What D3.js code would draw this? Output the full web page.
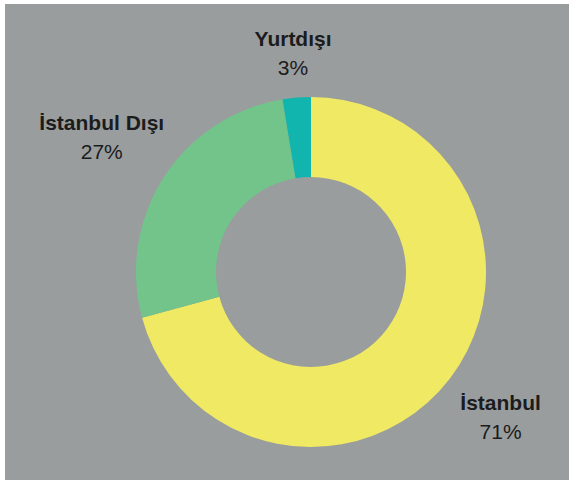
<!DOCTYPE html>
<html>
<head>
<meta charset="utf-8">
<script src="https://cdn.jsdelivr.net/npm/d3@7"></script>
<style>
  body { margin: 0; background: #fff; }
  svg { display: block; }
</style>
</head>
<body>
<div class="chart"></div>
<script>
// slice names, share, colours
var names = [ 'İstanbul' , 'İstanbul Dışı' , 'Yurtdışı' ];
var shares = [ 70.8 , 26.6 , 2.6 ];
var colors = [ '#efe964' , '#72c48a' , '#11b5ae' ];

var width = 574, height = 483;
var cx = 311, cy = 272;
var outerR = 175, innerR = 95;

var svg = d3.select( '.chart' )
    .append( 'svg' )
    .attr( 'width' , width )
    .attr( 'height' , height );

// grey panel with a thin white frame
svg.append( 'rect' )
    .attr( 'x' , 5 ).attr( 'y' , 4 )
    .attr( 'width' , 564 ).attr( 'height' , 476 )
    .attr( 'fill' , '#9a9d9e' );

var pie = d3.pie().sort( null ).value( function( d ){ return d } );
var arcs = pie( shares );

var arc = d3.arc().innerRadius( innerR ).outerRadius( outerR );

var g = svg.append( 'g' ).attr( 'transform' , 'translate(' + cx + ',' + cy + ')' );

g.selectAll( 'path' )
    .data( arcs )
    .enter()
        .append( 'path' )
        .attr( 'd' , arc )
        .attr( 'fill' , function( d , i ){ return colors[ i ] } );

// labels: two lines, pushed outward so the box sits just off the ring
var gap = 16;
var labels = g.selectAll( 'g.lbl' )
    .data( arcs )
    .enter()
        .append( 'g' )
        .attr( 'class' , 'lbl' );

var txt = labels.append( 'text' )
    .attr( 'text-anchor' , 'middle' )
    .style( 'font-family' , '"Liberation Sans", Arial, sans-serif' )
    .style( 'font-size' , '21px' )
    .attr( 'fill' , '#1b1c1d' );

txt.append( 'tspan' )
    .attr( 'x' , 0 ).attr( 'y' , 0 )
    .style( 'font-weight' , 'bold' )
    .text( function( d , i ){ return names[ i ] } );

txt.append( 'tspan' )
    .attr( 'x' , 0 ).attr( 'y' , 29 )
    .text( function( d ){ return Math.round( d.value ) + '%' } );

labels.each( function( d ){
    var b = this.getBBox();
    var a = ( d.startAngle + d.endAngle ) / 2;
    var dx = Math.sin( a ), dy = -Math.cos( a );
    // long labels don't get pushed out by their full half width
    var hw = Math.min( b.width / 2 , 52 );
    var support = Math.abs( dx ) * hw + Math.abs( dy ) * b.height / 2;
    var r = outerR + gap + support;
    var px = dx * r - ( b.x + b.width / 2 );
    var py = dy * r - ( b.y + b.height / 2 );
    d3.select( this ).attr( 'transform' , 'translate(' + px + ',' + py + ')' );
});
</script>
</body>
</html>
